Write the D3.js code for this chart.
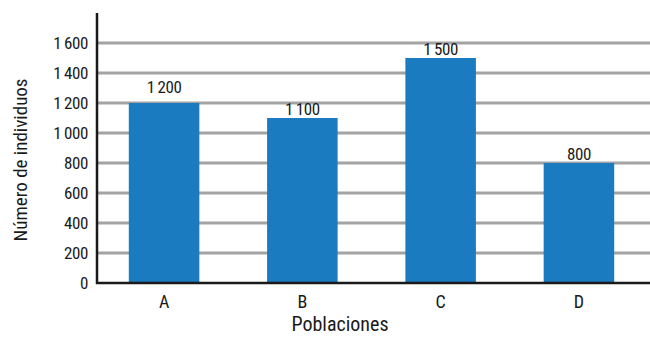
<!DOCTYPE html>
<html>
<head>
<meta charset="utf-8">
<script src="https://cdn.jsdelivr.net/npm/d3@7"></script>
<style>
  body { margin: 0; background: #fff; }
  svg text { font-family: "Liberation Sans Narrow", "Roboto Condensed", "Liberation Sans", sans-serif; fill: #1a1a1a; }
</style>
</head>
<body>
<svg width="650" height="337"></svg>
<script>
const categories = ["A", "B", "C", "D"];
const values = [1200, 1100, 1500, 800];
const yTicks = [0, 200, 400, 600, 800, 1000, 1200, 1400, 1600];
const xTitle = "Poblaciones";
const yTitle = "Número de individuos";

let svg = d3.select("svg");

// thousands with a thin space, as in the original print
let fmt = function(d) {
  let s = String(d);
  return s.length > 3 ? s.slice(0, -3) + "\u2009" + s.slice(-3) : s;
};

let x = d3.scaleBand()
  .domain(categories)
  .range([97, 646])
  .paddingInner(0.49)
  .paddingOuter(0.23);

let y = d3.scaleLinear()
  .domain([0, 1600])
  .range([283, 43]);

// gridlines
svg.append("g")
  .selectAll("line")
  .data(yTicks.slice(1))
  .enter().append("line")
    .attr("x1", 97)
    .attr("x2", 650)
    .attr("y1", d => y(d))
    .attr("y2", d => y(d))
    .attr("stroke", "#a3a3a3")
    .attr("stroke-width", 3);

// bars
svg.append("g")
  .selectAll("rect")
  .data(values)
  .enter().append("rect")
    .attr("x", (d, i) => x(categories[i]))
    .attr("y", d => y(d))
    .attr("width", x.bandwidth())
    .attr("height", d => y(0) - y(d))
    .attr("fill", "#1b7bc0");

// value labels (first one sits a bit higher in the print)
let lift = [10, 3, 3, 3];
svg.append("g")
  .selectAll("text")
  .data(values)
  .enter().append("text")
    .attr("x", (d, i) => x(categories[i]) + x.bandwidth() / 2)
    .attr("y", (d, i) => y(d) - lift[i])
    .attr("text-anchor", "middle")
    .attr("font-size", 17)
    .attr("letter-spacing", -0.4)
    .text(d => fmt(d));

// y axis
let yAxis = svg.append("g")
  .attr("transform", "translate(97,0)")
  .call(d3.axisLeft(y).tickValues(yTicks).tickSize(0).tickPadding(9).tickFormat(fmt));
yAxis.select(".domain").remove();
yAxis.selectAll("text").attr("font-size", 17).attr("letter-spacing", -0.4).attr("fill", "#1a1a1a");

svg.append("line")
  .attr("x1", 97).attr("x2", 97)
  .attr("y1", 13).attr("y2", y(0) + 1)
  .attr("stroke", "#1a1a1a")
  .attr("stroke-width", 2.5);

// x axis
let xAxis = svg.append("g")
  .attr("transform", "translate(0," + y(0) + ")")
  .call(d3.axisBottom(x).tickSize(0).tickPadding(12));
xAxis.select(".domain").remove();
xAxis.selectAll("text").attr("font-size", 18).attr("fill", "#1a1a1a");

svg.append("line")
  .attr("x1", 96).attr("x2", 650)
  .attr("y1", y(0)).attr("y2", y(0))
  .attr("stroke", "#1a1a1a")
  .attr("stroke-width", 2.5);

// titles
svg.append("text")
  .attr("x", 340)
  .attr("y", 331)
  .attr("text-anchor", "middle")
  .attr("font-size", 20)
  .text(xTitle);

svg.append("text")
  .attr("transform", "translate(27,160) rotate(-90)")
  .attr("text-anchor", "middle")
  .attr("font-size", 19)
  .text(yTitle);
</script>
</body>
</html>
